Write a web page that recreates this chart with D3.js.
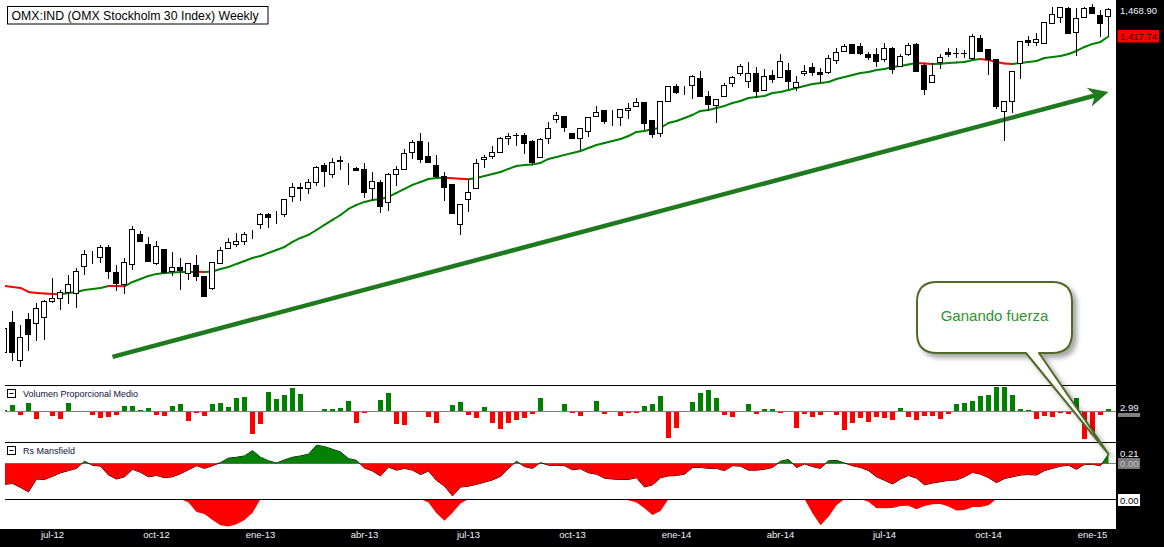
<!DOCTYPE html>
<meta charset="utf-8">

<!-- Load d3.js -->
<script src="https://d3js.org/d3.v7.min.js"></script>

<style>
  body { margin: 0; background: #fff; }
  svg { display: block; }
  text { font-family: "Liberation Sans", Arial, sans-serif; }
</style>

<div id="chart"></div>

<script>
    // OMX Stockholm 30, weekly candles from 21-may-2012 to 12-ene-2015
    var opens = [
        944, 981, 934, 985, 980, 988, 1008, 1012, 1020, 1019,
        1055, 1069, 1067, 1081, 1047, 1031, 1057, 1099, 1085, 1059,
        1078, 1048, 1053, 1045, 1056, 1041, 1025, 1059, 1079, 1085,
        1089, 1095, 1113, 1128, 1126, 1128, 1154, 1168, 1166, 1175,
        1201, 1188, 1208, 1189, 1197, 1195, 1166, 1175, 1145, 1188,
        1195, 1222, 1239, 1215, 1201, 1184, 1172, 1113, 1150, 1166,
        1211, 1215, 1222, 1244, 1249, 1249, 1239, 1214, 1244, 1275,
        1280, 1252, 1244, 1255, 1280, 1290, 1276, 1278, 1290, 1296,
        1303, 1273, 1252, 1305, 1330, 1323, 1332, 1344, 1313, 1298,
        1313, 1335, 1353, 1339, 1353, 1323, 1349, 1346, 1358, 1328,
        1353, 1363, 1354, 1354, 1375, 1392, 1404, 1401, 1386, 1386,
        1377, 1397, 1365, 1386, 1404, 1367, 1337, 1372, 1390, 1388,
        1388, 1379, 1415, 1395, 1377, 1288, 1305, 1370, 1411, 1408,
        1406, 1443, 1454, 1471, 1426, 1454, 1473, 1458, 1456
    ];
    var highs = [
        977, 995, 977, 993, 1006, 1009, 1039, 1023, 1043, 1052,
        1077, 1075, 1084, 1084, 1056, 1066, 1111, 1103, 1095, 1089,
        1078, 1074, 1066, 1059, 1070, 1041, 1060, 1081, 1093, 1101,
        1102, 1105, 1129, 1129, 1132, 1150, 1174, 1174, 1180, 1200,
        1205, 1212, 1215, 1205, 1198, 1205, 1191, 1178, 1189, 1200,
        1226, 1241, 1252, 1237, 1217, 1191, 1172, 1142, 1178, 1211,
        1217, 1231, 1245, 1252, 1252, 1252, 1241, 1244, 1270, 1286,
        1280, 1252, 1260, 1278, 1296, 1290, 1290, 1291, 1301, 1310,
        1303, 1273, 1305, 1330, 1334, 1330, 1349, 1356, 1322, 1308,
        1335, 1347, 1368, 1372, 1363, 1360, 1358, 1386, 1370, 1347,
        1367, 1370, 1361, 1384, 1397, 1404, 1404, 1406, 1390, 1397,
        1406, 1399, 1386, 1406, 1406, 1370, 1370, 1386, 1397, 1397,
        1393, 1422, 1421, 1395, 1377, 1305, 1356, 1410, 1419, 1424,
        1445, 1473, 1473, 1473, 1471, 1473, 1478, 1467, 1471
    ];
    var lows = [
        939, 934, 927, 946, 959, 960, 1007, 998, 1006, 1000,
        1044, 1059, 1060, 1039, 1023, 1019, 1051, 1089, 1061, 1057,
        1045, 1043, 1024, 1037, 1036, 1015, 1024, 1059, 1079, 1082,
        1085, 1094, 1108, 1109, 1115, 1125, 1147, 1148, 1159, 1171,
        1169, 1183, 1195, 1172, 1193, 1153, 1148, 1131, 1134, 1171,
        1195, 1212, 1206, 1206, 1183, 1148, 1129, 1099, 1132, 1166,
        1198, 1212, 1222, 1234, 1233, 1220, 1203, 1214, 1236, 1270,
        1255, 1244, 1226, 1247, 1280, 1268, 1265, 1265, 1276, 1296,
        1258, 1245, 1247, 1305, 1318, 1317, 1310, 1313, 1290, 1270,
        1313, 1330, 1349, 1328, 1311, 1323, 1337, 1346, 1327, 1323,
        1349, 1349, 1337, 1353, 1370, 1391, 1388, 1386, 1377, 1365,
        1374, 1353, 1365, 1384, 1356, 1317, 1337, 1361, 1383, 1381,
        1381, 1377, 1392, 1351, 1293, 1241, 1286, 1344, 1402, 1402,
        1406, 1443, 1445, 1424, 1384, 1454, 1461, 1419, 1421
    ];
    var closes = [
        974, 944, 962, 966, 999, 1008, 1012, 1020, 1031, 1048,
        1071, 1070, 1081, 1048, 1032, 1060, 1106, 1089, 1061, 1082,
        1047, 1053, 1049, 1059, 1041, 1015, 1060, 1077, 1088, 1089,
        1099, 1095, 1128, 1123, 1126, 1150, 1168, 1166, 1175, 1198,
        1192, 1206, 1209, 1189, 1194, 1160, 1177, 1140, 1188, 1195,
        1220, 1237, 1211, 1206, 1184, 1168, 1129, 1142, 1160, 1205,
        1214, 1222, 1244, 1247, 1248, 1236, 1206, 1242, 1260, 1281,
        1262, 1244, 1260, 1278, 1286, 1271, 1276, 1291, 1293, 1303,
        1268, 1250, 1305, 1330, 1320, 1323, 1347, 1313, 1300, 1308,
        1332, 1346, 1365, 1353, 1322, 1347, 1342, 1374, 1339, 1337,
        1356, 1354, 1351, 1379, 1390, 1401, 1388, 1388, 1381, 1374,
        1397, 1360, 1383, 1402, 1356, 1325, 1349, 1381, 1386, 1387,
        1387, 1419, 1392, 1377, 1296, 1305, 1356, 1410, 1408, 1413,
        1445, 1460, 1473, 1424, 1452, 1471, 1461, 1443, 1468.9
    ];

    // moving average (red while it falls, green while it rises)
    var movingAvg = [
        1027.8, 1026.5, 1025.2, 1019.9, 1018.6, 1018.0, 1017.3, 1017.0, 1018.6, 1019.9,
        1022.5, 1023.8, 1025.2, 1027.8, 1027.6, 1027.3, 1033.1, 1037.1, 1041.2, 1043.9,
        1045.2, 1045.9, 1046.5, 1046.6, 1046.9, 1046.4, 1047.2, 1050.6, 1053.3, 1057.4,
        1061.4, 1065.6, 1068.3, 1072.5, 1076.6, 1080.8, 1087.8, 1093.4, 1097.7, 1104.7,
        1111.9, 1119.1, 1126.3, 1135.1, 1141.0, 1145.4, 1148.3, 1149.8, 1152.8, 1158.7,
        1164.7, 1170.8, 1175.3, 1179.8, 1181.3, 1181.6, 1180.9, 1180.1, 1179.5, 1181.3,
        1184.4, 1187.5, 1190.5, 1195.2, 1199.8, 1201.4, 1202.2, 1204.5, 1210.7, 1213.8,
        1217.0, 1220.0, 1223.1, 1227.9, 1232.6, 1235.8, 1239.0, 1242.2, 1247.0, 1253.5,
        1255.1, 1258.3, 1260.0, 1268.1, 1271.4, 1276.3, 1281.3, 1287.9, 1289.6, 1293.0,
        1296.3, 1301.3, 1304.6, 1309.7, 1311.4, 1313.1, 1318.2, 1319.9, 1323.3, 1326.7,
        1330.1, 1333.6, 1335.3, 1337.0, 1342.1, 1345.6, 1349.1, 1352.6, 1354.3, 1357.8,
        1359.6, 1363.1, 1364.8, 1367.5, 1370.1, 1369.0, 1368.3, 1368.7, 1370.1, 1371.0,
        1371.9, 1375.4, 1377.2, 1375.4, 1371.9, 1369.2, 1368.3, 1370.1, 1371.9, 1373.6,
        1379.0, 1380.8, 1382.5, 1386.1, 1391.5, 1398.7, 1404.2, 1407.8, 1417.74
    ];

    // Volumen Proporcional Medio
    var volProp = [
        1.8, 7.7, -3.7, 9.9, -8.4, 0, -4.8, -8.4, 9.9, 0,
        0, -3.7, -7, -6.2, -4, 6.6, 6.6, 2.2, 4.4, -4,
        -5.1, 6.6, 8.8, -10.6, -1.8, -5.1, 8.8, 9.9, 5.5, 15.4,
        16.5, -24.9, -13.9, 22, 14.3, 18.7, 25.6, 19.8, 1.1, 1.1,
        3.3, 3.3, 4.4, 12.1, -12.8, -1.8, 0, 13.2, 20.9, -13.9,
        -15, 0, 0, -6.2, -12.1, 1.1, 7.7, 11, -3.7, -7.3,
        5.5, -12.8, -19.4, -12.8, -9.5, -7.3, -2.9, 14.7, 1.1, 0,
        8.8, -1.8, -5.1, 0, 12.1, -2.9, 0, -5.1, -1.8, -1.8,
        6.6, 8.8, 16.9, -29.3, -18.3, 1.1, 11, 20.9, 24.2, 15.4,
        -4, -6.2, 0, 8.8, -2.9, 3.3, 3.3, -1.8, 1.1, -17.6,
        -2.2, -5.5, -3.3, 0, -3.3, -19.8, -12.1, -6.6, -11, -5.5,
        -6.6, -8.8, 4, -5.5, -9.9, -4.4, -4.4, -7.7, -2.2, 8.4,
        9.5, 11.7, 17.2, 18.3, 27.1, 27.1, 18.7, 2.9, 1.8, -7.7,
        -4.4, -5.5, -1.1, -2.2, 15, -29.7, -25, -3.3, 2.99
    ];

    // Rs Mansfield
    var rsMansfield = [
        -0.47, -0.45, -0.54, -0.64, -0.35, -0.36, -0.29, -0.21, -0.16, -0.11,
        0.05, -0.04, -0.06, -0.26, -0.35, -0.30, -0.13, -0.20, -0.30, -0.27,
        -0.32, -0.30, -0.23, -0.14, -0.05, -0.11, -0.05, 0.02, 0.12, 0.14,
        0.17, 0.29, 0.14, 0.06, 0.01, 0.08, 0.14, 0.17, 0.21, 0.41,
        0.38, 0.32, 0.26, 0.11, 0.07, -0.10, -0.17, -0.28, -0.08, -0.15,
        -0.11, -0.15, -0.25, -0.17, -0.38, -0.51, -0.73, -0.53, -0.51, -0.47,
        -0.42, -0.37, -0.29, -0.11, 0.05, -0.07, -0.11, 0.02, -0.04, -0.04,
        -0.05, -0.14, -0.12, -0.21, -0.24, -0.33, -0.35, -0.36, -0.36, -0.32,
        -0.53, -0.48, -0.32, -0.28, -0.27, -0.24, -0.09, -0.09, -0.11, -0.11,
        -0.16, -0.05, -0.06, -0.15, -0.15, -0.13, -0.09, 0.05, 0.09, -0.09,
        -0.01, -0.07, -0.11, 0.06, 0.07, 0.01, -0.05, -0.09, -0.16, -0.30,
        -0.38, -0.46, -0.35, -0.27, -0.33, -0.48, -0.44, -0.41, -0.38, -0.37,
        -0.30, -0.20, -0.24, -0.32, -0.43, -0.34, -0.30, -0.26, -0.25, -0.26,
        -0.16, -0.11, -0.06, -0.04, -0.13, -0.02, -0.02, -0.05, 0.21
    ];

    // lower sub-panel (only negative stretches)
    var rsLower = [
        0, 0, 0, 0, 0, 0, 0, 0, 0, 0,
        0, 0, 0, 0, 0, 0, 0, 0, 0, 0,
        0, 0, 0, -0.08, -0.29, -0.34, -0.47, -0.59, -0.62, -0.57,
        -0.47, -0.31, 0, 0, 0, 0, 0, 0, 0, 0,
        0, 0, 0, 0, 0, 0, 0, 0, 0, 0,
        0, 0, 0, -0.08, -0.32, -0.49, -0.31, -0.10, 0, 0,
        0, 0, 0, 0, 0, 0, 0, 0, 0, 0,
        0, 0, 0, 0, 0, 0, 0, 0, -0.03, -0.08,
        -0.21, -0.36, -0.27, 0, 0, 0, 0, 0, 0, 0,
        0, 0, 0, 0, 0, 0, 0, 0, 0, 0,
        0, -0.32, -0.59, -0.40, -0.14, 0, 0, 0, -0.06, -0.21,
        -0.21, -0.20, -0.16, -0.15, -0.23, -0.16, -0.12, -0.11, -0.17, -0.26,
        -0.25, -0.18, -0.18, -0.14, 0, 0, 0, 0, 0, 0,
        0, 0, 0, 0, 0, 0, 0, 0, 0
    ];

    // x axis labels (week that holds the 1st of the month)
    var tickLabels = [
        ["2012-07-02", "jul-12"], ["2012-10-01", "oct-12"], ["2012-12-31", "ene-13"],
        ["2013-04-01", "abr-13"], ["2013-07-01", "jul-13"], ["2013-09-30", "oct-13"],
        ["2013-12-30", "ene-14"], ["2014-03-31", "abr-14"], ["2014-06-30", "jul-14"],
        ["2014-09-29", "oct-14"], ["2014-12-29", "ene-15"]
    ];

    // trend arrow drawn on the price panel: [week index, price]
    var trendArrow = { from: [13.5, 938], to: [138, 1320] };

    var weeks = d3.timeMonday.range(new Date(2012, 4, 21), new Date(2015, 0, 13));
    var weekKeys = weeks.map(d3.timeFormat("%Y-%m-%d"));
    var n = weekKeys.length;

    var W = 1164, H = 547;
    var left = 5, right = 1116;

    var svg = d3.select("#chart")
        .append("svg")
        .attr("width", W)
        .attr("height", H);

    svg.append("rect").attr("width", W).attr("height", H).attr("fill", "#fff");

    var defs = svg.append("defs");
    function clip(id, x0, y0, x1, y1) {
        defs.append("clipPath").attr("id", id).append("rect")
            .attr("x", x0).attr("y", y0).attr("width", x1 - x0).attr("height", y1 - y0);
    }
    clip("clipPrice", left, 0, right, 385);
    clip("clipRsUp", left, 442, right, 463.5);
    clip("clipRsDown", left, 463.5, right, 499);
    clip("clipPanels", left, 385, right, 529);

    var shadow = defs.append("filter").attr("id", "shadow")
        .attr("x", "-20%").attr("y", "-20%").attr("width", "150%").attr("height", "150%");
    shadow.append("feDropShadow").attr("dx", 4).attr("dy", 4)
        .attr("stdDeviation", 2.5).attr("flood-color", "#000").attr("flood-opacity", 0.35);

    // scales
    var x = d3.scaleBand().domain(weekKeys).range([0.5, 0.5 + 8 * n]);
    function cx(i) { return x(weekKeys[i]) + x.bandwidth() / 2; }
    var xIdx = d3.scaleLinear().domain([0, n - 1]).range([cx(0), cx(n - 1)]);

    var y = d3.scaleLog().domain([904.6, 1486]).range([385, 0]);
    var yVol = d3.scaleLinear().domain([-33.55, 29.15]).range([442, 385]);
    var yRs = d3.scaleLinear().domain([-0.7988, 0.4838]).range([499, 442]);
    var yLow = d3.scaleLinear().domain([-0.675, 0]).range([529, 499]);

    // ---------- price panel ----------
    var pg = svg.append("g").attr("clip-path", "url(#clipPrice)");

    var maSegs = d3.pairs(d3.range(n)).map(function (p) {
        return { a: p[0], b: p[1], falling: movingAvg[p[1]] < movingAvg[p[0]] };
    });
    pg.selectAll(".ma").data(maSegs).join("line")
        .attr("class", "ma")
        .attr("x1", d => cx(d.a)).attr("y1", d => y(movingAvg[d.a]))
        .attr("x2", d => cx(d.b)).attr("y2", d => y(movingAvg[d.b]))
        .attr("stroke", d => d.falling ? "#ff0000" : "#008000")
        .attr("stroke-width", 2)
        .attr("stroke-linecap", "round");

    // trend arrow
    var a0 = [xIdx(trendArrow.from[0]), y(trendArrow.from[1])];
    var a1 = [xIdx(trendArrow.to[0]), y(trendArrow.to[1])];
    var len = Math.hypot(a1[0] - a0[0], a1[1] - a0[1]);
    var ux = (a1[0] - a0[0]) / len, uy = (a1[1] - a0[1]) / len;
    var px = -uy, py = ux;
    var notch = [a1[0] - 14 * ux, a1[1] - 14 * uy];
    pg.append("line")
        .attr("x1", a0[0]).attr("y1", a0[1])
        .attr("x2", notch[0]).attr("y2", notch[1])
        .attr("stroke", "#1f7a1f").attr("stroke-width", 4.5);
    pg.append("path")
        .attr("d", d3.line()([
            a1,
            [a1[0] - 20 * ux - 9.7 * px, a1[1] - 20 * uy - 9.7 * py],
            notch,
            [a1[0] - 20 * ux + 9.7 * px, a1[1] - 20 * uy + 9.7 * py]
        ]) + "Z")
        .attr("fill", "#1f7a1f");

    // candles
    var candles = weekKeys.map(function (k, i) {
        return { i: i, o: opens[i], h: highs[i], l: lows[i], c: closes[i] };
    });
    var cg = pg.selectAll(".candle").data(candles).join("g").attr("class", "candle");

    cg.append("line")
        .attr("x1", d => cx(d.i)).attr("x2", d => cx(d.i))
        .attr("y1", d => Math.round(y(d.h))).attr("y2", d => Math.round(y(d.l)) + 1)
        .attr("stroke", "#000").attr("stroke-width", 1);

    cg.filter(d => d.c < d.o).append("rect")
        .attr("x", d => cx(d.i) - 3.5)
        .attr("width", 6)
        .attr("y", d => Math.round(y(d.o)))
        .attr("height", d => Math.max(1, Math.round(y(d.c)) - Math.round(y(d.o)) + 1))
        .attr("fill", "#000");

    cg.filter(d => d.c >= d.o).append("rect")
        .attr("x", d => cx(d.i) - 3)
        .attr("width", 5)
        .attr("y", d => Math.round(y(d.c)) + 0.5)
        .attr("height", d => Math.round(y(d.o)) - Math.round(y(d.c)))
        .attr("fill", "#fff")
        .attr("stroke", "#000").attr("stroke-width", 1);

    // ---------- lower panels ----------
    var lg = svg.append("g").attr("clip-path", "url(#clipPanels)");

    // volume bars
    var vol0 = yVol(0);
    lg.selectAll(".vol").data(volProp.map((v, i) => ({ v: v, i: i })).filter(d => d.v !== 0))
        .join("rect")
        .attr("class", "vol")
        .attr("x", d => cx(d.i) - 2.5)
        .attr("width", 5)
        .attr("y", d => d.v > 0 ? Math.round(yVol(d.v)) : Math.ceil(vol0))
        .attr("height", d => d.v > 0 ? Math.ceil(vol0) - Math.round(yVol(d.v))
                                      : Math.max(1, Math.round(yVol(d.v)) - Math.ceil(vol0)))
        .attr("fill", d => d.v > 0 ? "#008000" : "#ff0000");

    lg.append("line")
        .attr("x1", left).attr("x2", right)
        .attr("y1", vol0).attr("y2", vol0)
        .attr("stroke", "#808080");

    // Rs Mansfield areas
    var rsArea = d3.area()
        .x((d, i) => cx(i))
        .y0(yRs(0))
        .y1(d => yRs(d));
    svg.append("path").datum(rsMansfield)
        .attr("clip-path", "url(#clipRsUp)")
        .attr("d", rsArea).attr("fill", "#008000");
    svg.append("path").datum(rsMansfield)
        .attr("clip-path", "url(#clipRsDown)")
        .attr("d", rsArea).attr("fill", "#ff0000");

    lg.append("line")
        .attr("x1", left).attr("x2", right)
        .attr("y1", yRs(0)).attr("y2", yRs(0))
        .attr("stroke", "#808080");

    lg.append("path").datum(rsMansfield)
        .attr("d", d3.line().x((d, i) => cx(i)).y(d => yRs(d)))
        .attr("fill", "none").attr("stroke", "#000").attr("stroke-width", 1);

    // lower sub-panel
    lg.append("path").datum(rsLower)
        .attr("d", d3.area().x((d, i) => cx(i)).y0(yLow(0)).y1(d => yLow(d)))
        .attr("fill", "#ff0000");

    // panel separators
    [385.5, 442.5, 499.5].forEach(function (yy) {
        svg.append("line")
            .attr("x1", left).attr("x2", right)
            .attr("y1", yy).attr("y2", yy)
            .attr("stroke", "#000");
    });

    // panel titles with collapse icon
    function panelTitle(label, top) {
        var g = svg.append("g");
        g.append("rect").attr("x", 7.5).attr("y", top + 0.5).attr("width", 8).attr("height", 8)
            .attr("fill", "#fff").attr("stroke", "#000");
        g.append("line").attr("x1", 9.5).attr("x2", 13.5)
            .attr("y1", top + 4.5).attr("y2", top + 4.5).attr("stroke", "#000");
        g.append("text").attr("x", 23).attr("y", top + 8)
            .attr("font-size", 9).attr("fill", "#10103a").text(label);
    }
    panelTitle("Volumen Proporcional Medio", 389);
    panelTitle("Rs Mansfield", 446);

    // ---------- frame: right scale strip and date band ----------
    svg.append("rect").attr("x", right).attr("y", 0).attr("width", W - right).attr("height", H).attr("fill", "#000");
    svg.append("rect").attr("x", 0).attr("y", 529).attr("width", W).attr("height", H - 529).attr("fill", "#000");

    var labelOf = new Map(tickLabels);
    svg.append("g")
        .attr("transform", "translate(0,529)")
        .call(d3.axisBottom(x)
            .tickValues(tickLabels.map(t => t[0]))
            .tickFormat(d => labelOf.get(d))
            .tickSize(0)
            .tickPadding(2))
        .call(g => g.select(".domain").remove())
        .selectAll("text")
        .attr("fill", "#eef3ff")
        .style("font-family", "'Liberation Sans', Arial, sans-serif")
        .style("font-size", "9.5px");

    // right-hand value labels
    function valueLabel(txt, yy, color) {
        svg.append("text").attr("x", 1120).attr("y", yy)
            .attr("font-size", 9.5).attr("fill", color).text(txt);
    }
    valueLabel(d3.format(",.2f")(closes[n - 1]), 13.5, "#f2f6ff");
    svg.append("rect").attr("x", 1117.5).attr("y", 30).attr("width", 41.5).attr("height", 12.5).attr("fill", "#ff0000");
    valueLabel(d3.format(",.2f")(movingAvg[n - 1]), 40, "#2b0000");

    valueLabel(d3.format(".2f")(volProp[n - 1]), 411, "#f2f6ff");
    svg.append("rect").attr("x", 1118).attr("y", 413).attr("width", 22).attr("height", 4).attr("fill", "#808080");

    valueLabel(d3.format(".2f")(rsMansfield[n - 1]), 457, "#f2f6ff");
    svg.append("rect").attr("x", 1118).attr("y", 458).attr("width", 22).attr("height", 11).attr("fill", "#7a7a7a");
    valueLabel("0.00", 467, "#c4c4c4");
    svg.append("rect").attr("x", 1118).attr("y", 494).attr("width", 22).attr("height", 12).attr("fill", "#fff");
    valueLabel("0.00", 503.5, "#000");

    // ---------- title ----------
    svg.append("rect").attr("x", 7.5).attr("y", 6.5).attr("width", 260.5).attr("height", 17.5)
        .attr("fill", "#fff").attr("stroke", "#000");
    svg.append("text").attr("x", 11.5).attr("y", 19.5)
        .attr("font-size", 12.3).attr("fill", "#000")
        .text("OMX:IND (OMX Stockholm 30 Index) Weekly");

    // ---------- callout ----------
    var bx0 = 917, by0 = 282, bx1 = 1072, by1 = 353, br = 20;
    var tip = [cx(n - 1), yRs(rsMansfield[n - 1])];
    var p = d3.path();
    p.moveTo(bx0 + br, by0);
    p.lineTo(bx1 - br, by0);
    p.quadraticCurveTo(bx1, by0, bx1, by0 + br);
    p.lineTo(bx1, by1 - br);
    p.quadraticCurveTo(bx1, by1, bx1 - br, by1);
    p.lineTo(1039, by1);
    p.lineTo(tip[0], tip[1]);
    p.lineTo(1026, by1);
    p.lineTo(bx0 + br, by1);
    p.quadraticCurveTo(bx0, by1, bx0, by1 - br);
    p.lineTo(bx0, by0 + br);
    p.quadraticCurveTo(bx0, by0, bx0 + br, by0);
    p.closePath();

    svg.append("path")
        .attr("d", p.toString())
        .attr("fill", "#fff")
        .attr("stroke", "#4f6b26")
        .attr("stroke-width", 2)
        .attr("stroke-linejoin", "round")
        .attr("filter", "url(#shadow)");

    svg.append("text")
        .attr("x", (bx0 + bx1) / 2).attr("y", 321)
        .attr("text-anchor", "middle")
        .attr("font-size", 15).attr("fill", "#2f932f")
        .text("Ganando fuerza");
</script>
